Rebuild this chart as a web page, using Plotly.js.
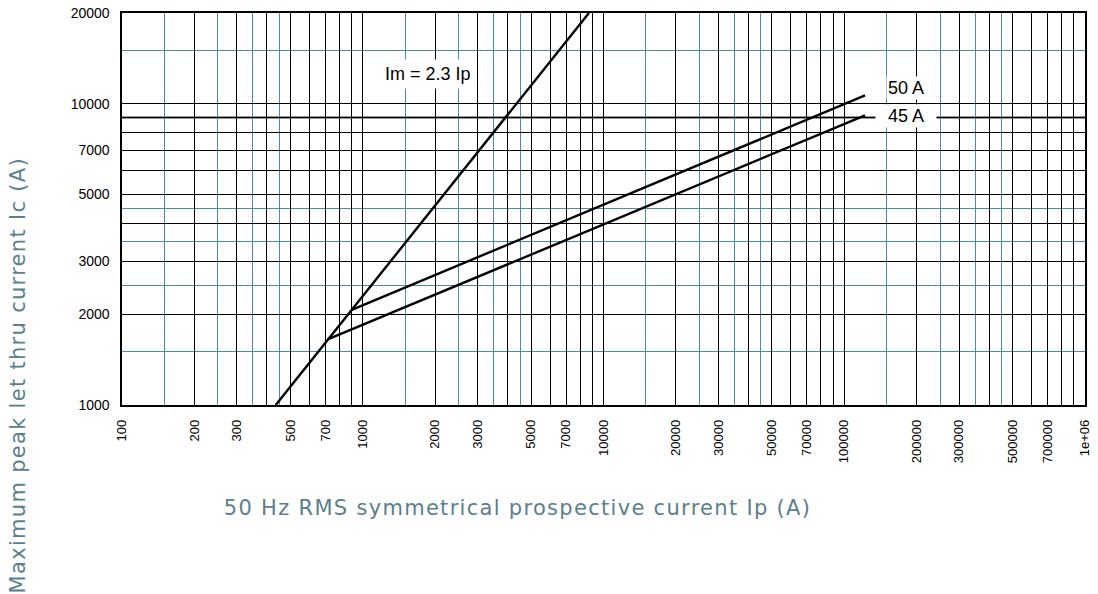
<!DOCTYPE html>
<html>
<head>
<meta charset="utf-8">
<script src="https://cdn.plot.ly/plotly-3.0.1.min.js"></script>
<style>
html,body{margin:0;padding:0;background:#fff;}
#chart{width:1098px;height:594px;}
g.annotation[data-index="3"] text, g.annotation[data-index="4"] text {letter-spacing: 1.3px;}
</style>
</head>
<body>
<div id="chart"></div>
<script>
// Ratio line Im = 2.3 Ip
const ipRatio = [435, 8700];
const imRatio = [1000, 20000];
// 50 A curve
const ip50 = [900, 122000];
const ic50 = [2070, 10650];
// 45 A curve
const ip45 = [715, 122000];
const ic45 = [1650, 9150];

// Grid / tick values
const xMajor = [100,200,300,400,500,600,700,800,900,
  1000,2000,3000,4000,5000,6000,7000,8000,9000,
  10000,20000,30000,40000,50000,60000,70000,80000,90000,
  100000,200000,300000,400000,500000,600000,700000,800000,900000,1000000];
const xLabeled = [100,200,300,500,700,1000,2000,3000,5000,7000,10000,20000,30000,50000,70000,100000,200000,300000,500000,700000,1000000];
const xLabelText = ['100','200','300','500','700','1000','2000','3000','5000','7000','10000','20000','30000','50000','70000','100000','200000','300000','500000','700000','1e+06'];
const xMinor = [150,250,350,450,1500,2500,3500,4500,15000,25000,35000,45000,150000,250000,350000,450000];

const yMajor = [1000,2000,3000,4000,5000,6000,7000,8000,9000,10000,20000];
const yLabeled = [1000,2000,3000,5000,7000,10000,20000];
const yLabelText = ['1000','2000','3000','5000','7000','10000','20000'];
const yMinor = [1500,2500,3500,4500,15000];
const yHeavy = [9000];

const labelFor = (vals, labeled, texts) => vals.map(v => { const i = labeled.indexOf(v); return i >= 0 ? texts[i] : ''; });

const teal = '#4d8d97';
const lineStyle = {color: '#000', width: 2.4};

const traces = [
  {x: ipRatio, y: imRatio, mode: 'lines', line: lineStyle, hoverinfo: 'skip', showlegend: false},
  {x: ip50, y: ic50, mode: 'lines', line: lineStyle, hoverinfo: 'skip', showlegend: false},
  {x: ip45, y: ic45, mode: 'lines', line: lineStyle, hoverinfo: 'skip', showlegend: false}
];

const arial = 'Liberation Sans, Arial, sans-serif';
const titleFont = {family: 'DejaVu Sans, sans-serif', size: 21, color: '#5b7f8b'};
const labelFont = {family: arial, size: 18, color: '#000'};

const layout = {
  width: 1098, height: 594,
  margin: {l: 122, r: 13, t: 13, b: 189},
  paper_bgcolor: '#fff', plot_bgcolor: '#fff',
  showlegend: false,
  xaxis: {
    type: 'log', range: [2, 6],
    tickmode: 'array', tickvals: xMajor, ticktext: labelFor(xMajor, xLabeled, xLabelText),
    tickangle: -90, tickfont: {family: arial, size: 13, color: '#000'}, ticks: '',
    ticklabelstandoff: 8,
    showgrid: true, gridcolor: '#000', gridwidth: 1,
    minor: {tickmode: 'array', tickvals: xMinor, showgrid: true, gridcolor: teal, gridwidth: 1, ticks: ''},
    showline: true, linecolor: '#000', linewidth: 1.6, mirror: true,
    zeroline: false, fixedrange: true
  },
  yaxis: {
    type: 'log', range: [3, Math.log10(20000)],
    tickmode: 'array', tickvals: yMajor, ticktext: labelFor(yMajor, yLabeled, yLabelText),
    tickfont: {family: arial, size: 14, color: '#000'}, ticks: '',
    ticklabelstandoff: 8,
    showgrid: true, gridcolor: '#000', gridwidth: 1,
    minor: {tickmode: 'array', tickvals: yMinor, showgrid: true, gridcolor: teal, gridwidth: 1, ticks: ''},
    showline: true, linecolor: '#000', linewidth: 1.6, mirror: true,
    zeroline: false, fixedrange: true
  },
  shapes: yHeavy.map(v => ({type: 'line', xref: 'paper', x0: 0, x1: 1, yref: 'y', y0: v, y1: v,
    line: {color: '#333', width: 2.2}, layer: 'below'})),
  annotations: [
    {xref: 'paper', yref: 'paper', x: 0.318, y: 0.844, xanchor: 'center', yanchor: 'middle',
     text: 'Im = 2.3 Ip', showarrow: false, font: labelFont, bgcolor: '#fff', borderpad: 4},
    {xref: 'paper', yref: 'paper', x: 0.814, y: 0.809, xanchor: 'center', yanchor: 'middle',
     text: '50 A', showarrow: false, font: labelFont, bgcolor: '#fff', borderpad: 1},
    {xref: 'paper', yref: 'paper', x: 0.814, y: 0.736, xanchor: 'center', yanchor: 'middle',
     text: '45 A', showarrow: false, font: labelFont, bgcolor: '#fff', borderpad: 1, width: 58},
    {xref: 'paper', yref: 'paper', x: 0.411, y: -0.263, xanchor: 'center', yanchor: 'middle',
     text: '50 Hz RMS symmetrical prospective current Ip (A)', showarrow: false, font: titleFont},
    {xref: 'paper', yref: 'paper', x: -0.108, y: 0.0765, xanchor: 'center', yanchor: 'middle',
     text: 'Maximum peak let thru current Ic (A)', showarrow: false, font: titleFont, textangle: -90}
  ]
};

Plotly.newPlot('chart', traces, layout, {displayModeBar: false, staticPlot: true});
</script>
</body>
</html>
